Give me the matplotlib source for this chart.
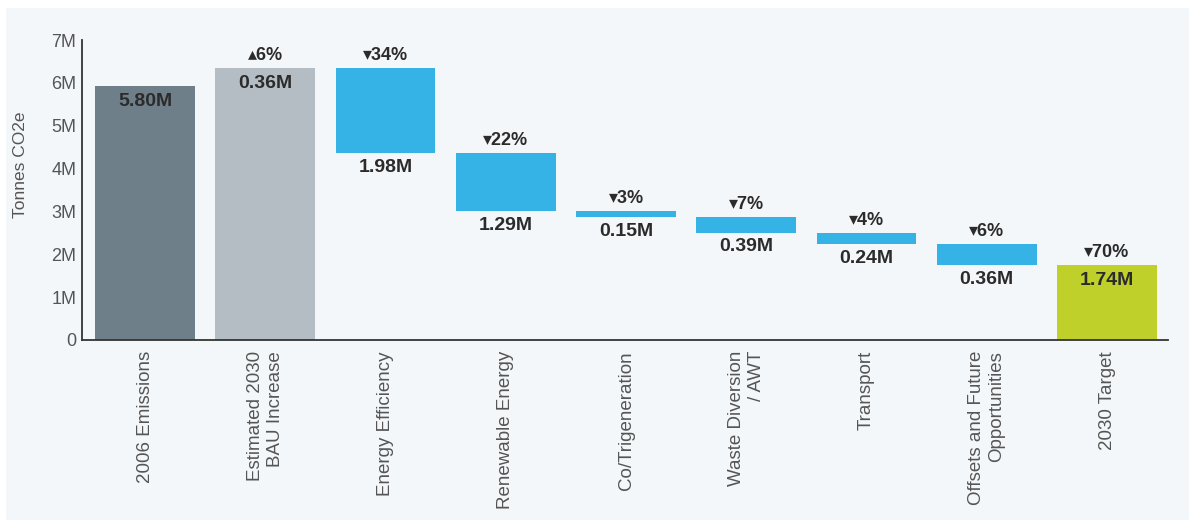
import numpy as np
import matplotlib.pyplot as plt
from matplotlib.patches import Rectangle

# categories and waterfall steps (in millions)
categories = ['2006 Emissions', 'Estimated 2030\nBAU Increase', 'Energy Efficiency',
              'Renewable Energy', 'Co/Trigeneration', 'Waste Diversion\n/ AWT',
              'Transport', 'Offsets and Future\nOpportunities', '2030 Target']
start_value = 5.93
steps = [0.41, -1.98, -1.35, -0.14, -0.37, -0.26, -0.49]
final_value = 1.75

value_labels = ['5.80M', '0.36M', '1.98M', '1.29M', '0.15M', '0.39M', '0.24M', '0.36M', '1.74M']
pct_labels = ['', '▴6%', '▾34%', '▾22%', '▾3%', '▾7%', '▾4%', '▾6%', '▾70%']

yticks = [0, 1, 2, 3, 4, 5, 6, 7]
ytick_labels = ['0', '1M', '2M', '3M', '4M', '5M', '6M', '7M']

c_base = '#6f7f89'
c_bau = '#b5bdc4'
c_cut = '#35b2e6'
c_target = '#bfd02b'
bg = '#f4f7fa'

fig = plt.figure(figsize=(11.89, 5.2), dpi=100, facecolor=bg)
# thin white margin on top and left
fig.patches.append(Rectangle((0, 1 - 8 / 520), 1, 8 / 520, transform=fig.transFigure,
                             facecolor='white', edgecolor='none', zorder=-10))
fig.patches.append(Rectangle((0, 0), 6 / 1189, 1, transform=fig.transFigure,
                             facecolor='white', edgecolor='none', zorder=-10))
ax = fig.add_axes([82 / 1189, 180 / 520, 1086 / 1189, 300 / 520])
ax.patch.set_alpha(0)

# build bottoms / heights: totals stand on 0, reductions float
bottoms = [0]
heights = [start_value]
level = start_value
for s in steps:
    if s > 0:
        # BAU increase is drawn as a full bar up to the new level
        bottoms.append(0)
        heights.append(level + s)
    else:
        bottoms.append(level + s)
        heights.append(-s)
    level += s
bottoms.append(0)
heights.append(final_value)
colors = [c_base, c_bau] + [c_cut] * len(steps[1:]) + [c_target]

x = np.arange(len(categories))
ax.bar(x, heights, bottom=bottoms, width=0.83, color=colors, zorder=2)

fam = ['Liberation Sans', 'DejaVu Sans']
for i in range(len(categories)):
    top = bottoms[i] + heights[i]
    bot = bottoms[i]
    if pct_labels[i]:
        ax.annotate(pct_labels[i], (x[i], top), xytext=(0, 3), textcoords='offset points',
                    ha='center', va='bottom', fontsize=13, fontweight='bold',
                    color='#2b2b2b', family=fam)
    if colors[i] == c_cut:
        ax.annotate(value_labels[i], (x[i], bot), xytext=(0, -4), textcoords='offset points',
                    ha='center', va='top', fontsize=14, fontweight='bold',
                    color='#2b2b2b', family=fam)
    else:
        ax.annotate(value_labels[i], (x[i], top), xytext=(0, -5), textcoords='offset points',
                    ha='center', va='top', fontsize=14, fontweight='bold',
                    color='#2b2b2b', family=fam)

ax.set_xlim(-0.524, 8.507)
ax.set_ylim(0, 7)
ax.set_yticks(yticks)
ax.set_yticklabels(ytick_labels, family=fam, fontsize=13, color='#555555')
ax.set_xticks(x)
ax.set_xticklabels(categories, rotation=90, ha='center', va='top', ma='right',
                   family=fam, fontsize=13.5, color='#555555')
ax.tick_params(axis='both', length=0)
ax.tick_params(axis='y', pad=4)
ax.tick_params(axis='x', pad=8)

for side in ['top', 'right']:
    ax.spines[side].set_visible(False)
for side in ['left', 'bottom']:
    ax.spines[side].set_color('#333333')
    ax.spines[side].set_linewidth(1.3)
    ax.spines[side].set_zorder(3)

ax.text(-0.057, 0.583, 'Tonnes CO2e', transform=ax.transAxes, rotation=90,
        ha='center', va='center', fontsize=12.5, color='#555555', family=fam)

fig.savefig('out.png', dpi=100, facecolor=fig.get_facecolor())
